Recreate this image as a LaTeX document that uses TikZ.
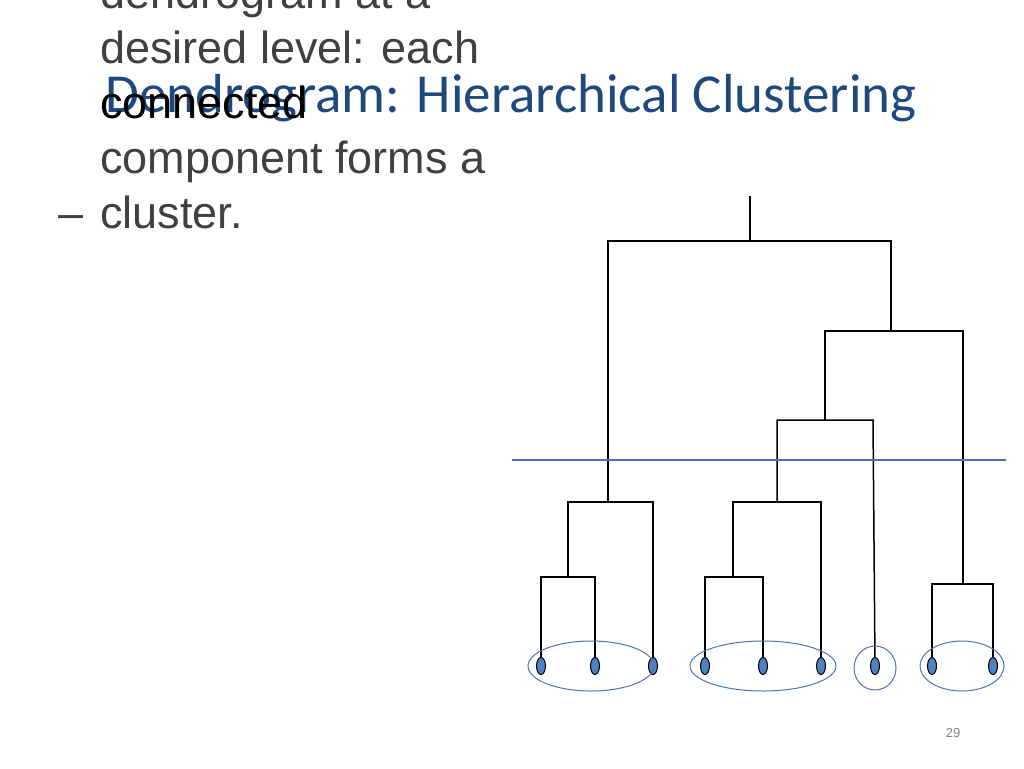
\documentclass[tikz,border=0pt]{standalone}
\usetikzlibrary{shapes.geometric}
\usepackage{fontspec}
\setmainfont{Liberation Sans}
\newfontfamily\titlefont{Carlito}
\definecolor{titleblue}{RGB}{31,73,125}
\definecolor{bodygray}{RGB}{64,64,64}
\definecolor{cutblue}{RGB}{79,114,183}
\definecolor{leafblue}{RGB}{79,129,189}
\begin{document}
\begin{tikzpicture}[x=1pt,y=-1pt,
  br/.style={draw=black,line width=1.5pt},
  leaf/.style={ellipse,draw=black,fill=leafblue,line width=1pt,minimum width=9pt,minimum height=17pt,inner sep=0pt},
  grp/.style={draw=cutblue,line width=1pt}]
\useasboundingbox (0,0) rectangle (1024,768);
\node[anchor=base west,font=\titlefont\fontsize{55}{60}\selectfont,text=titleblue,inner sep=0pt] (title) at (105,112) {Dendrogram: Hierarchical Clustering};
\node[anchor=base west,font=\fontsize{45}{55}\selectfont,text=bodygray,inner sep=0pt] (dash) at (58,228) {\textendash};
\node[anchor=base west,align=left,font=\fontsize{45}{55}\selectfont,text=bodygray,inner sep=0pt] (body) at (100,228)
{Clustering obtained\\by cutting the\\dendrogram at a\\desired level: each\\\textcolor{black}{connected}\\component forms a\\cluster.};
% leaves
\foreach \n/\x in {1/541,2/595,3/653,4/705,5/763,6/821,7/875,8/932,9/993}
  \coordinate (l\n) at (\x,666);
% tree
\draw[br] (l1) -- (541,577) -- (595,577) -- (l2);
\draw[br] (568,577) -- (568,502) -- (653,502) -- (l3);
\draw[br] (608,502) -- (608,241) -- (891,241) -- (891,331);
\draw[br] (750,241) -- (750,196);
\draw[br] (l4) -- (705,577) -- (763,577) -- (l5);
\draw[br] (733,577) -- (733,502) -- (821,502) -- (l6);
\draw[br] (777,502) -- (777,420) -- (873,420) -- (l7);
\draw[br] (825,420) -- (825,331) -- (963,331) -- (963,584);
\draw[br] (l8) -- (932,584) -- (993,584) -- (l9);
\foreach \n in {1,...,9} \node[leaf] at (l\n) {};
% cut
\draw[cutblue,line width=2.5pt] (512,460) -- (1006,460);
% groups
\draw[grp] (591,666) ellipse [x radius=63,y radius=25];
\draw[grp] (763,666) ellipse [x radius=73,y radius=25];
\draw[grp] (875,668) ellipse [x radius=21,y radius=22];
\draw[grp] (962,666) ellipse [x radius=42,y radius=25];
\node[font=\fontsize{13}{15}\selectfont,text=gray] (num) at (953,733) {29};
\end{tikzpicture}
\end{document}
